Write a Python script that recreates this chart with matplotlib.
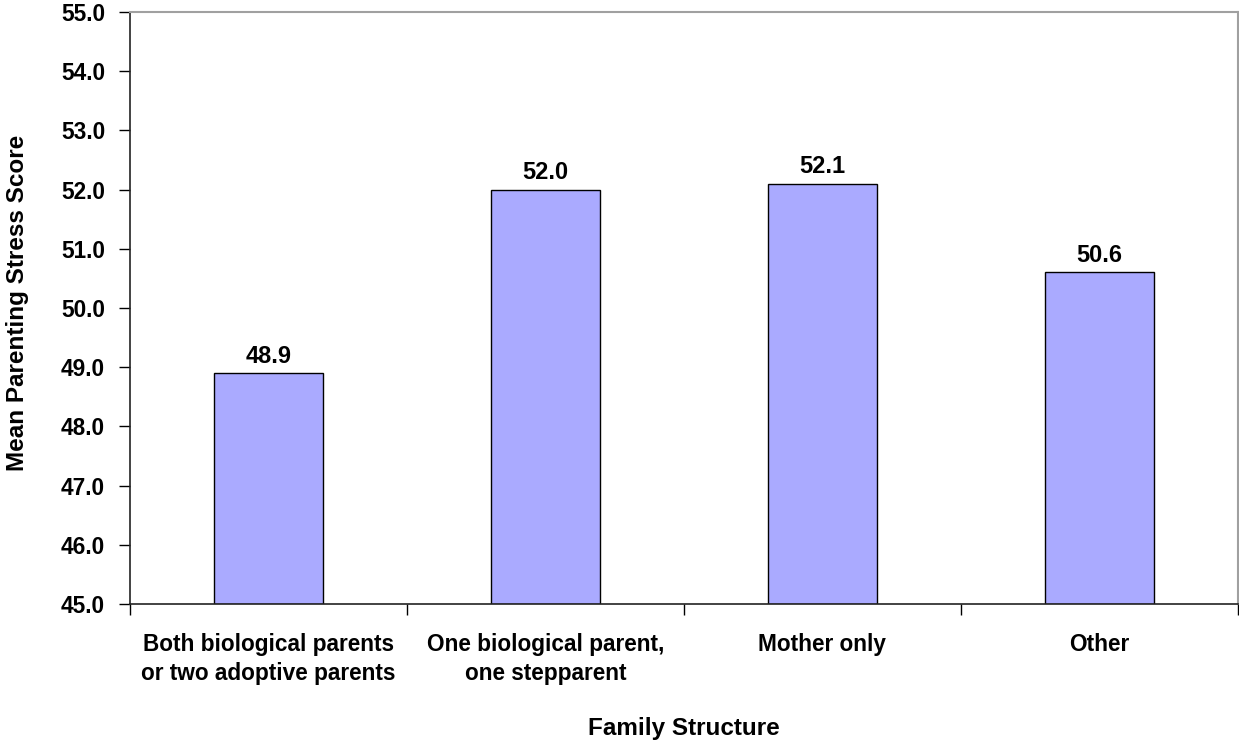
import matplotlib
matplotlib.use("Agg")
import matplotlib.pyplot as plt
import numpy as np

plt.rcParams["font.family"] = ["Liberation Sans", "DejaVu Sans"]

categories = ["Both biological parents\nor two adoptive parents",
              "One biological parent,\none stepparent",
              "Mother only",
              "Other"]
values = [48.9, 52.0, 52.1, 50.6]
labels = ["48.9", "52.0", "52.1", "50.6"]
yticks = np.arange(45, 55.01, 1.0)

fig = plt.figure(figsize=(12.39, 7.47), dpi=100)
ax = fig.add_axes([130 / 1239, 1 - 604 / 747, 1108 / 1239, 592 / 747])

x = np.arange(len(values))
ax.bar(x, [v - 45 for v in values], bottom=45, width=0.39,
       color="#AAAAFF", edgecolor="black", linewidth=1.0, zorder=2)
for xi, v, s in zip(x, values, labels):
    ax.text(xi, v + 0.09, s, ha="center", va="bottom",
            fontsize=17, fontweight="bold")

ax.set_xlim(-0.5, len(values) - 0.5)
ax.set_ylim(45, 55)
ax.set_yticks(yticks)
ax.set_yticklabels([f"{t:.1f}" for t in yticks], fontsize=16.3, fontweight="bold")
ax.tick_params(axis="y", direction="out", length=8, width=1, pad=10)

# category labels, ticks on category boundaries
ax.set_xticks(x)
ax.set_xticklabels(categories, fontsize=16.3, fontweight="bold", linespacing=1.33)
ax.tick_params(axis="x", length=0, pad=21)
ax.set_xticks(np.arange(-0.5, len(values)), minor=True)
ax.tick_params(axis="x", which="minor", direction="out", length=8, width=1)

for side in ["top", "right"]:
    ax.spines[side].set_color("#A0A0A0")
    ax.spines[side].set_linewidth(1.5)
for side in ["left", "bottom"]:
    ax.spines[side].set_color("#222222")
    ax.spines[side].set_linewidth(1.2)

fig.text(18 / 1239, 1 - 303 / 747, "Mean Parenting Stress Score", rotation=90,
         ha="center", va="center", fontsize=17.5, fontweight="bold")
fig.text(684 / 1239, 1 - 729 / 747, "Family Structure",
         ha="center", va="center", fontsize=17.5, fontweight="bold")

fig.savefig("out.png", dpi=100, facecolor="white")
